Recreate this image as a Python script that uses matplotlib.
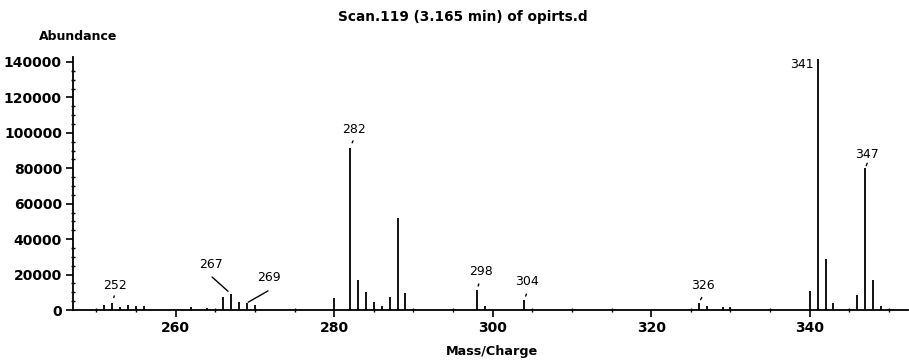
import matplotlib
matplotlib.use("Agg")
import matplotlib.pyplot as plt
from matplotlib.ticker import MultipleLocator, FixedLocator

# ---- data ----
mz = [251, 252, 253, 254, 255, 256, 262, 264, 266, 267, 268, 269, 270,
      280, 282, 283, 284, 285, 286, 287, 288, 289,
      298, 299, 304, 305, 326, 327, 329, 330,
      340, 341, 342, 343, 346, 347, 348, 349]
abundance = [2800, 4000, 1500, 2800, 2000, 2000, 1500, 1000, 7500, 9000, 4500, 4000, 3000,
             6800, 91500, 17100, 9900, 4300, 2400, 7500, 51700, 9400,
             11300, 2000, 5600, 700, 3700, 2000, 1500, 1500,
             11000, 141500, 28800, 3700, 8500, 80000, 17000, 2100]
label_mz = [252, 267, 269, 282, 298, 304, 326, 341, 347]
label_text = ["252", "267", "269", "282", "298", "304", "326", "341", "347"]
yticks = [0, 20000, 40000, 60000, 80000, 100000, 120000, 140000]
xticks = [260, 280, 300, 320, 340]

title = "Scan.119 (3.165 min) of opirts.d"

W, H = 909, 363
fig = plt.figure(figsize=(W / 100, H / 100), dpi=100)
ax = fig.add_axes([73 / W, 1 - 310 / H, (908 - 73) / W, (310 - 57) / H])

ax.vlines(mz, 0, abundance, color="black", linewidth=1.3)
ax.set_xlim(247.05, 352.4)
ax.set_ylim(0, 142800)

for s in ("top", "right"):
    ax.spines[s].set_visible(False)
ax.spines["left"].set_linewidth(1.3)
ax.spines["bottom"].set_linewidth(1.3)

ax.yaxis.set_major_locator(FixedLocator(yticks))
ax.yaxis.set_minor_locator(MultipleLocator(5000))
ax.xaxis.set_major_locator(FixedLocator(xticks))
ax.xaxis.set_minor_locator(MultipleLocator(5))
ax.tick_params(axis="both", which="major", length=5, width=1.2, direction="out",
               labelsize=10, pad=3)
ax.tick_params(axis="both", which="minor", length=3, width=1.0, direction="inout")
ax.set_yticklabels([str(v) for v in yticks], fontweight="bold")
ax.set_xticklabels([str(v) for v in xticks], fontweight="bold")

fig.text(463 / W, 1 - 17 / H, title, ha="center", va="center",
         fontsize=9.8, fontweight="bold")
fig.text(39 / W, 1 - 36 / H, "Abundance", ha="left", va="center",
         fontsize=9, fontweight="bold")
fig.text(492 / W, 1 - 351 / H, "Mass/Charge", ha="center", va="center",
         fontsize=9.2, fontweight="bold")

# label offsets (pixels) relative to peak tops, and leader segment style
ab = dict(zip(mz, abundance))
offsets = {
    252: ((3, 17), (0, 4), (2, 7)),
    267: ((-20, 30), (-1, 3), (-19, 17)),
    269: ((22, 25), (-1, 1), (21, 12)),
    282: ((4, 18), (0, 4), (3, 7)),
    298: ((4, 18), (0, 3), (2, 6)),
    304: ((3, 19), (0, 3), (2, 6)),
    326: ((4, 18), (0, 3), (3, 6)),
    341: ((-16, -5), None, None),
    347: ((2, 14), (0, 2), (2, 5)),
}
for m, t in zip(label_mz, label_text):
    (tx, ty), p0, p1 = offsets[m]
    y = min(ab[m], 142800)
    ax.annotate(t, xy=(m, y), xytext=(tx, ty), textcoords="offset pixels",
                ha="center", va="center", fontsize=9, annotation_clip=False)
    if p0 is not None:
        ax.annotate("", xy=(m, y), xytext=(p1[0], p1[1]), textcoords="offset pixels",
                    arrowprops=dict(arrowstyle="-", color="black", lw=1.0,
                                    shrinkA=0, shrinkB=p0[1]),
                    annotation_clip=False)

fig.savefig("out.png", dpi=100)
